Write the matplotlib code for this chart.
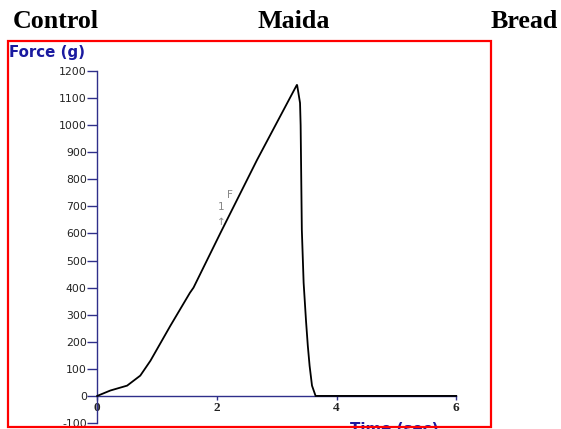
import matplotlib
matplotlib.use("Agg")
import matplotlib.pyplot as plt
from matplotlib.patches import Rectangle

# Texture-analyser trace: force vs time
time_s = [0.0, 0.22, 0.50, 0.72, 0.89, 1.22, 1.55, 1.61, 2.06, 2.67, 3.34,
          3.39, 3.40, 3.42, 3.45, 3.49, 3.52, 3.55, 3.59, 3.65, 6.0]
force_g = [0, 20, 38, 75, 130, 258, 381, 400, 602, 871, 1150,
           1082, 1000, 614, 418, 277, 185, 111, 38, 0, 0]

x_ticks = [0, 2, 4, 6]
y_ticks = list(range(-100, 1201, 100))
titles = ["Control", "Maida", "Bread"]

W, H = 561, 429
fig = plt.figure(figsize=(W / 100, H / 100), dpi=100)
fig.patch.set_facecolor("white")

def px(x, y):
    return x / W, 1 - y / H

# Plot area: t=0..6 -> x 97..456, F=-100..1200 -> y 423..71
x0, x1 = 97.2, 456.2
y_top, y_bot = 71, 423
ax = fig.add_axes([x0 / W, 1 - y_bot / H, (x1 - x0) / W, (y_bot - y_top) / H])
ax.set_xlim(0, 6)
ax.set_ylim(-100, 1200)
ax.patch.set_alpha(0)

axis_col = "#2f2f8a"
for s in ["top", "right"]:
    ax.spines[s].set_visible(False)
ax.spines["bottom"].set_position(("data", 0))
ax.spines["left"].set_position(("data", 0))
for s in ["bottom", "left"]:
    ax.spines[s].set_color(axis_col)
    ax.spines[s].set_linewidth(1.0)

ax.set_xticks(x_ticks)
ax.set_xticklabels([str(v) for v in x_ticks], fontfamily="Liberation Serif",
                   fontweight="bold", fontsize=9.5, color="#222222")
ax.set_yticks(y_ticks)
ax.set_yticklabels([str(v) for v in y_ticks], fontfamily="DejaVu Sans",
                   fontsize=7.8, color="#222222")
ax.tick_params(axis="y", direction="out", length=7, width=1.0, color=axis_col, pad=0.5)
ax.tick_params(axis="x", direction="out", length=3, width=1.0, color=axis_col, pad=1.5)

ax.plot(time_s, force_g, color="black", linewidth=1.3, solid_joinstyle="miter",
        zorder=3, clip_on=False)

# peak marker annotation
ax.text(2.22, 743, "F", fontsize=7.5, color="#888888", ha="center", va="center")
ax.text(2.07, 696, "1", fontsize=7.5, color="#888888", ha="center", va="center")
ax.text(2.07, 644, "\u2191", fontsize=7.5, color="#888888", ha="center", va="center")

# axis captions
fig.text(*px(9, 52), "Force (g)", fontfamily="DejaVu Sans", fontweight="bold",
         fontsize=10.8, color="#1a1aa0", ha="left", va="center")
fig.text(*px(350, 422), "Time (sec)", fontfamily="DejaVu Sans", fontweight="bold",
         fontsize=10.8, color="#1a1aa0", ha="left", va="top")

# frame around the chart
fig.patches.append(Rectangle(px(8, 427), (491 - 8) / W, (427 - 41) / H,
                             transform=fig.transFigure, fill=False,
                             edgecolor="#ff0000", linewidth=1.6, zorder=10))

# header
title_x = [13, 258, 491]
for t, xx in zip(titles, title_x):
    fig.text(*px(xx, 28), t, fontfamily="Liberation Serif", fontweight="bold",
             fontsize=18.7, color="black", ha="left", va="baseline")

fig.savefig("out.png", dpi=100, facecolor="white")
